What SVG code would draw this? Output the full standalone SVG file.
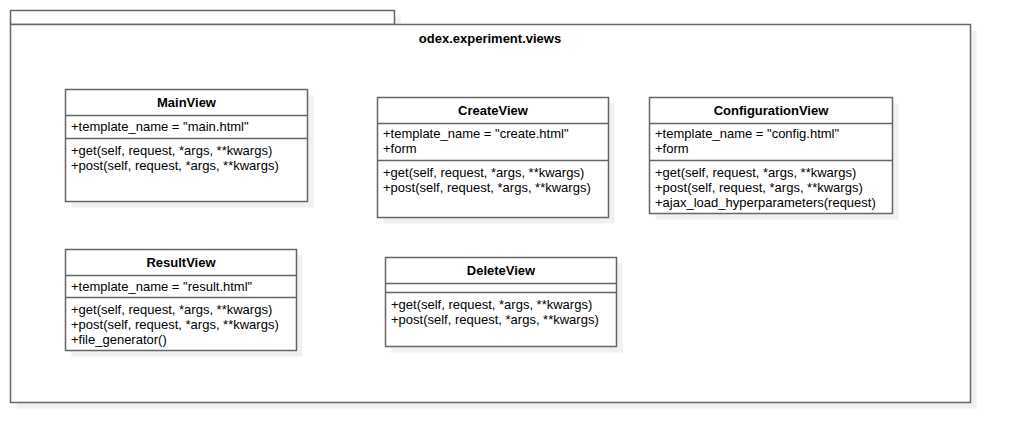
<svg xmlns="http://www.w3.org/2000/svg" width="1010" height="442" viewBox="0 0 1010 442">
<style>
.bg{fill:#ffffff}
.sh{fill:#f0f0f0;stroke:none}
.box{fill:#ffffff;stroke:#666666;stroke-width:1.5}
.ln{stroke:#666666;stroke-width:1.5;fill:none}
text{font-family:"Liberation Sans",Arial,Helvetica,sans-serif;font-size:13px;fill:#000000}
.t{font-weight:bold;text-anchor:middle}
</style>
<rect class="bg" x="0" y="0" width="1010" height="442"/>
<g id="package">
<rect class="sh" x="16.5" y="16.5" width="384" height="14"/>
<rect class="sh" x="16.5" y="30.5" width="960" height="378"/>
<rect class="box" x="10.5" y="10.5" width="384" height="14"/>
<rect class="box" x="10.5" y="24.5" width="960" height="378"/>
<text class="t" x="490" y="42.5">odex.experiment.views</text>
</g>
<g id="MainView">
<rect class="sh" x="71.5" y="95.5" width="242" height="112"/>
<rect class="box" x="65.5" y="89.5" width="242" height="112"/>
<line class="ln" x1="65.5" y1="115.5" x2="307.5" y2="115.5"/>
<line class="ln" x1="65.5" y1="138.5" x2="307.5" y2="138.5"/>
<text class="t" x="186.5" y="107">MainView</text>
<text x="71" y="131">+template_name = "main.html"</text>
<text x="71" y="154.5">+get(self, request, *args, **kwargs)</text>
<text x="71" y="169.5">+post(self, request, *args, **kwargs)</text>
</g>
<g id="CreateView">
<rect class="sh" x="383.5" y="103.5" width="231" height="120"/>
<rect class="box" x="377.5" y="97.5" width="231" height="120"/>
<line class="ln" x1="377.5" y1="123.5" x2="608.5" y2="123.5"/>
<line class="ln" x1="377.5" y1="160.5" x2="608.5" y2="160.5"/>
<text class="t" x="493" y="115">CreateView</text>
<text x="383" y="138">+template_name = "create.html"</text>
<text x="383" y="153">+form</text>
<text x="383" y="176.5">+get(self, request, *args, **kwargs)</text>
<text x="383" y="191.5">+post(self, request, *args, **kwargs)</text>
</g>
<g id="ConfigurationView">
<rect class="sh" x="655.5" y="103.5" width="243" height="116"/>
<rect class="box" x="649.5" y="97.5" width="243" height="116"/>
<line class="ln" x1="649.5" y1="123.5" x2="892.5" y2="123.5"/>
<line class="ln" x1="649.5" y1="160.5" x2="892.5" y2="160.5"/>
<text class="t" x="771" y="115">ConfigurationView</text>
<text x="655" y="138">+template_name = "config.html"</text>
<text x="655" y="153">+form</text>
<text x="655" y="176.5">+get(self, request, *args, **kwargs)</text>
<text x="655" y="191.5">+post(self, request, *args, **kwargs)</text>
<text x="655" y="206.5">+ajax_load_hyperparameters(request)</text>
</g>
<g id="ResultView">
<rect class="sh" x="71.5" y="255.5" width="231" height="101"/>
<rect class="box" x="65.5" y="249.5" width="231" height="101"/>
<line class="ln" x1="65.5" y1="275.5" x2="296.5" y2="275.5"/>
<line class="ln" x1="65.5" y1="297.5" x2="296.5" y2="297.5"/>
<text class="t" x="181" y="267">ResultView</text>
<text x="71" y="290.5">+template_name = "result.html"</text>
<text x="71" y="313.5">+get(self, request, *args, **kwargs)</text>
<text x="71" y="328.5">+post(self, request, *args, **kwargs)</text>
<text x="71" y="343.5">+file_generator()</text>
</g>
<g id="DeleteView">
<rect class="sh" x="391.5" y="263.5" width="231" height="89"/>
<rect class="box" x="385.5" y="257.5" width="231" height="89"/>
<line class="ln" x1="385.5" y1="283.5" x2="616.5" y2="283.5"/>
<line class="ln" x1="385.5" y1="292.5" x2="616.5" y2="292.5"/>
<text class="t" x="501" y="275">DeleteView</text>
<text x="391" y="308.5">+get(self, request, *args, **kwargs)</text>
<text x="391" y="323.5">+post(self, request, *args, **kwargs)</text>
</g>
<g id="connectors"/>
</svg>
